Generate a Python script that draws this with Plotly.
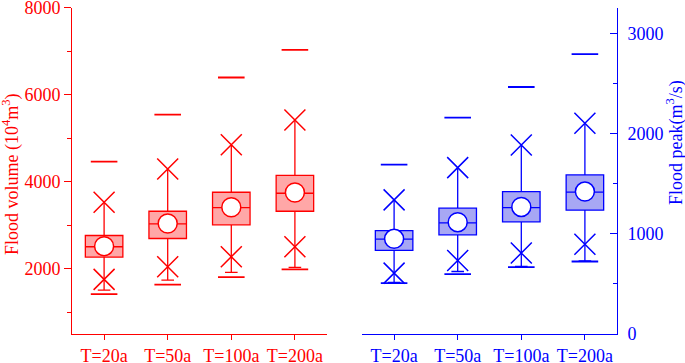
import plotly.graph_objects as go

categories = ["T=20a", "T=50a", "T=100a", "T=200a"]

# Flood volume (10^4 m^3)
vol_min = [1418, 1633, 1808, 1984]
vol_low_whisker = [1510, 1739, 1915, 2030]
vol_p1 = [1755, 2046, 2275, 2504]
vol_q1 = [2266, 2694, 3008, 3320]
vol_median = [2504, 3031, 3405, 3733]
vol_mean = [2518, 3038, 3412, 3749]
vol_q3 = [2763, 3320, 3756, 4145]
vol_p99 = [3526, 4292, 4849, 5415]
vol_max = [4459, 5537, 6392, 7026]

# Flood peak (m^3/s)
peak_min = [508, 598, 668, 724]
peak_low_whisker = [515, 624, 674, 730]
peak_p1 = [608, 734, 808, 897]
peak_q1 = [834, 990, 1120, 1236]
peak_median = [947, 1110, 1262, 1416]
peak_mean = [950, 1117, 1269, 1422]
peak_q3 = [1033, 1256, 1422, 1588]
peak_p99 = [1339, 1661, 1887, 2104]
peak_max = [1691, 2160, 2466, 2795]

RED = "#FF0000"
BLUE = "#0000FF"
FONT = "Liberation Serif"

fig = go.Figure()


def add_group(xa, ya, color, fill, mn, lw, p1, q1, med, mean, q3, p99, mx):
    fig.add_trace(go.Box(
        x=categories, q1=q1, median=med, q3=q3, lowerfence=lw, upperfence=p99,
        xaxis=xa, yaxis=ya, fillcolor=fill, line=dict(color=color, width=1.3),
        width=0.59, whiskerwidth=0, boxpoints=False, showlegend=False,
        hoverinfo="skip"))
    # lower whisker cap
    fig.add_trace(go.Scatter(
        x=categories, y=lw, xaxis=xa, yaxis=ya, mode="markers", showlegend=False,
        marker=dict(symbol="line-ew", size=9, line=dict(color=color, width=1.3))))
    # 1% / 99% crosses
    fig.add_trace(go.Scatter(
        x=categories + categories, y=p1 + p99, xaxis=xa, yaxis=ya, mode="markers",
        showlegend=False,
        marker=dict(symbol="x-thin", size=21, line=dict(color=color, width=1.5))))
    # min / max dashes
    fig.add_trace(go.Scatter(
        x=categories + categories, y=mn + mx, xaxis=xa, yaxis=ya, mode="markers",
        showlegend=False,
        marker=dict(symbol="line-ew", size=19, line=dict(color=color, width=1.8))))
    # mean circles
    fig.add_trace(go.Scatter(
        x=categories, y=mean, xaxis=xa, yaxis=ya, mode="markers", showlegend=False,
        marker=dict(symbol="circle", size=19, color="white",
                    line=dict(color=color, width=1.5))))


add_group("x", "y", RED, "rgba(255,60,60,0.45)", vol_min, vol_low_whisker, vol_p1,
          vol_q1, vol_median, vol_mean, vol_q3, vol_p99, vol_max)
add_group("x2", "y2", BLUE, "rgba(60,60,230,0.45)", peak_min, peak_low_whisker, peak_p1,
          peak_q1, peak_median, peak_mean, peak_q3, peak_p99, peak_max)

ydom = [1 - 334 / 363, 1 - 7.5 / 363]

fig.update_layout(
    width=685, height=363,
    margin=dict(l=0, r=0, t=0, b=0, autoexpand=False),
    paper_bgcolor="white", plot_bgcolor="white",
    font=dict(family=FONT, size=18),
    xaxis=dict(domain=[72.3 / 685, 326.7 / 685], anchor="y", type="category",
               range=[-0.5, 3.5], showline=True, linecolor=RED, linewidth=1.3,
               ticks="outside", ticklen=5, tickcolor=RED, tickwidth=1.3,
               automargin=False,
               tickfont=dict(color=RED, size=18, family=FONT), showgrid=False),
    yaxis=dict(domain=ydom, anchor="x", range=[500, 8000], showline=True,
               linecolor=RED, linewidth=1.3, ticks="outside", ticklen=7,
               tickcolor=RED, tickwidth=1.3, tick0=0, dtick=2000, tickformat="d",
               automargin=False, ticklabeloverflow="allow",
               tickfont=dict(color=RED, size=18, family=FONT), showgrid=False,
               zeroline=False,
               minor=dict(dtick=1000, tick0=0, ticks="outside", ticklen=4,
                          tickcolor=RED, tickwidth=1.3, showgrid=False)),
    xaxis2=dict(domain=[362.3 / 685, 616.7 / 685], anchor="y2", type="category",
                range=[-0.5, 3.5], showline=True, linecolor=BLUE, linewidth=1.3,
                ticks="outside", ticklen=5, tickcolor=BLUE, tickwidth=1.3,
                automargin=False,
                tickfont=dict(color=BLUE, size=18, family=FONT), showgrid=False),
    yaxis2=dict(domain=ydom, anchor="x2", side="right", range=[0, 3260],
                showline=True, linecolor=BLUE, linewidth=1.3, ticks="inside",
                ticklen=7, tickcolor=BLUE, tickwidth=1.3, tick0=0, dtick=1000,
                tickformat="d", ticklabelstandoff=6, automargin=False,
                tickfont=dict(color=BLUE, size=18, family=FONT), showgrid=False,
                zeroline=False,
                minor=dict(dtick=500, tick0=0, ticks="inside", ticklen=4,
                           tickcolor=BLUE, tickwidth=1.3, showgrid=False)),
    annotations=[
        dict(text="Flood volume (10<sup>4</sup>m<sup>3</sup>)", xref="paper", yref="paper",
             x=11 / 685, y=1 - 174 / 363, xanchor="center", yanchor="middle",
             textangle=-90, showarrow=False, font=dict(color=RED, size=18, family=FONT)),
        dict(text="Flood peak(m<sup>3</sup>/s)", xref="paper", yref="paper",
             x=675 / 685, y=1 - 143 / 363, xanchor="center", yanchor="middle",
             textangle=-90, showarrow=False, font=dict(color=BLUE, size=18, family=FONT)),
    ],
)

fig.write_html(
    "out.html",
    config={"displayModeBar": False},
    post_script="document.body.style.margin='0';document.body.style.overflow='hidden';",
)
